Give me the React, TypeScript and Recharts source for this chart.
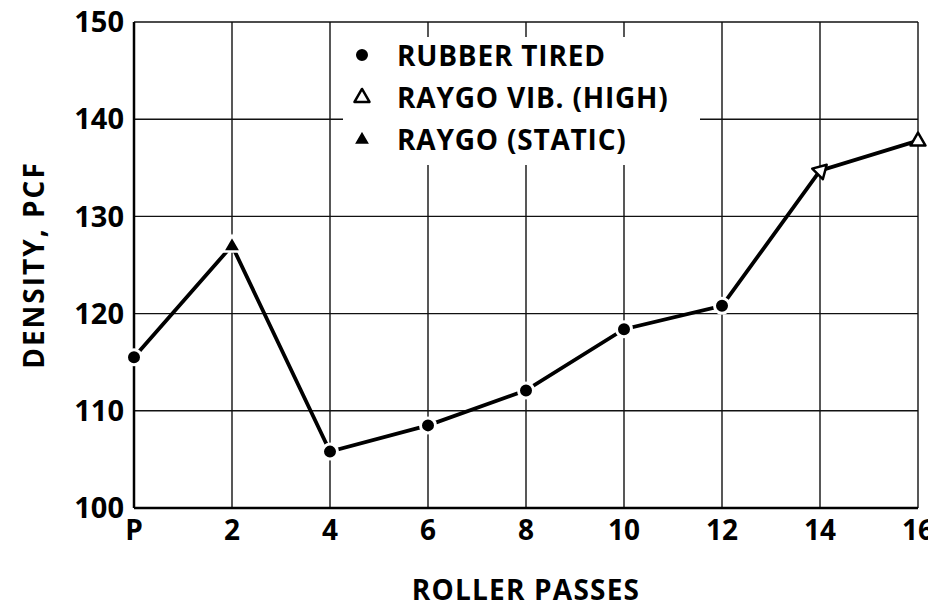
import { LineChart, Line, XAxis, YAxis, CartesianGrid } from 'recharts'

// Roller passes (P = placement) and measured density
const passes = ['P', '2', '4', '6', '8', '10', '12', '14', '16']
const density = [115.5, 127, 105.8, 108.5, 112.1, 118.4, 120.8, 134.7, 137.8]
// roller used for each reading
const roller = ['rubber', 'static', 'rubber', 'rubber', 'rubber', 'rubber', 'rubber', 'vib', 'vib']
const densityTicks = [100, 110, 120, 130, 140, 150]

const legendItems = [
  { kind: 'rubber', label: 'RUBBER TIRED' },
  { kind: 'vib', label: 'RAYGO VIB. (HIGH)' },
  { kind: 'static', label: 'RAYGO (STATIC)' },
]

const chartData = passes.map((p, i) => ({ pass: p, density: density[i], roller: roller[i] }))

const FONT = '"Open Sans", "DejaVu Sans", sans-serif'

function triPath(cx: number, cy: number, s: number) {
  const h = s * 0.866
  return `M${cx},${cy - h * 0.62} L${cx + s / 2},${cy + h * 0.38} L${cx - s / 2},${cy + h * 0.38} Z`
}

function Marker({ kind, cx, cy, rotate = 0 }: { kind: string; cx: number; cy: number; rotate?: number }) {
  if (kind === 'rubber') {
    return <circle cx={cx} cy={cy} r={7.5} fill="#000" stroke="#fff" strokeWidth={3} />
  }
  if (kind === 'static') {
    return <path d={triPath(cx, cy, 18)} fill="#000" stroke="#fff" strokeWidth={2.5} />
  }
  return (
    <path
      d={triPath(cx, cy, 15)}
      fill="#fff"
      stroke="#000"
      strokeWidth={2.5}
      strokeLinejoin="round"
      transform={rotate ? `rotate(${rotate} ${cx} ${cy})` : undefined}
    />
  )
}

function renderDot(props: any) {
  const { cx, cy, index, payload } = props
  const rot = index === 7 ? -75 : 0
  return <Marker key={`dot-${index}`} kind={payload.roller} cx={cx} cy={cy} rotate={rot} />
}

function LegendBox() {
  return (
    <div
      style={{
        position: 'absolute',
        left: 343,
        top: 37,
        width: 357,
        height: 128,
        background: '#fff',
        fontFamily: FONT,
        fontWeight: 700,
        fontSize: 28,
        letterSpacing: 0.8,
        color: '#000',
      }}
    >
      {legendItems.map((item, i) => (
        <div key={item.label} style={{ position: 'absolute', left: 0, top: i * 42 - 4, height: 44, width: 357 }}>
          <svg width={40} height={44} style={{ position: 'absolute', left: 0, top: 0 }}>
            <Marker kind={item.kind} cx={19} cy={22} />
          </svg>
          <span style={{ position: 'absolute', left: 54, top: 2, lineHeight: '40px', whiteSpace: 'nowrap' }}>
            {item.label}
          </span>
        </div>
      ))}
    </div>
  )
}

export default function App() {
  return (
    <div style={{ position: 'relative', width: 936, height: 609, margin: -8, background: '#fff' }}>
      <LineChart
        width={936}
        height={609}
        data={chartData}
        margin={{ top: 22, right: 18, left: 0, bottom: 0 }}
      >
        <CartesianGrid stroke="#111" strokeWidth={1.4} />
        <XAxis
          dataKey="pass"
          height={101}
          stroke="#000"
          strokeWidth={2.5}
          tickLine={false}
          tickSize={0}
          tickMargin={12}
          tick={{ fill: '#000', fontSize: 28, fontWeight: 700, fontFamily: FONT }}
          label={{
            value: 'ROLLER PASSES',
            position: 'insideBottom',
            offset: 9,
            style: { fill: '#000', fontSize: 28, fontWeight: 700, fontFamily: FONT, letterSpacing: 1.2 },
          }}
        />
        <YAxis
          width={134}
          domain={[100, 150]}
          ticks={densityTicks}
          stroke="#000"
          strokeWidth={2.5}
          tickLine={false}
          tickSize={0}
          tickMargin={10}
          tick={{ fill: '#000', fontSize: 29, fontWeight: 700, fontFamily: FONT }}
          label={{
            value: 'DENSITY, PCF',
            angle: -90,
            position: 'insideLeft',
            offset: 34,
            style: {
              fill: '#000',
              fontSize: 28,
              fontWeight: 700,
              fontFamily: FONT,
              letterSpacing: 2,
              textAnchor: 'middle',
            },
          }}
        />
        <Line
          type="linear"
          dataKey="density"
          stroke="#000"
          strokeWidth={3.8}
          dot={renderDot}
          activeDot={false}
          isAnimationActive={false}
        />
      </LineChart>
      <LegendBox />
    </div>
  )
}
